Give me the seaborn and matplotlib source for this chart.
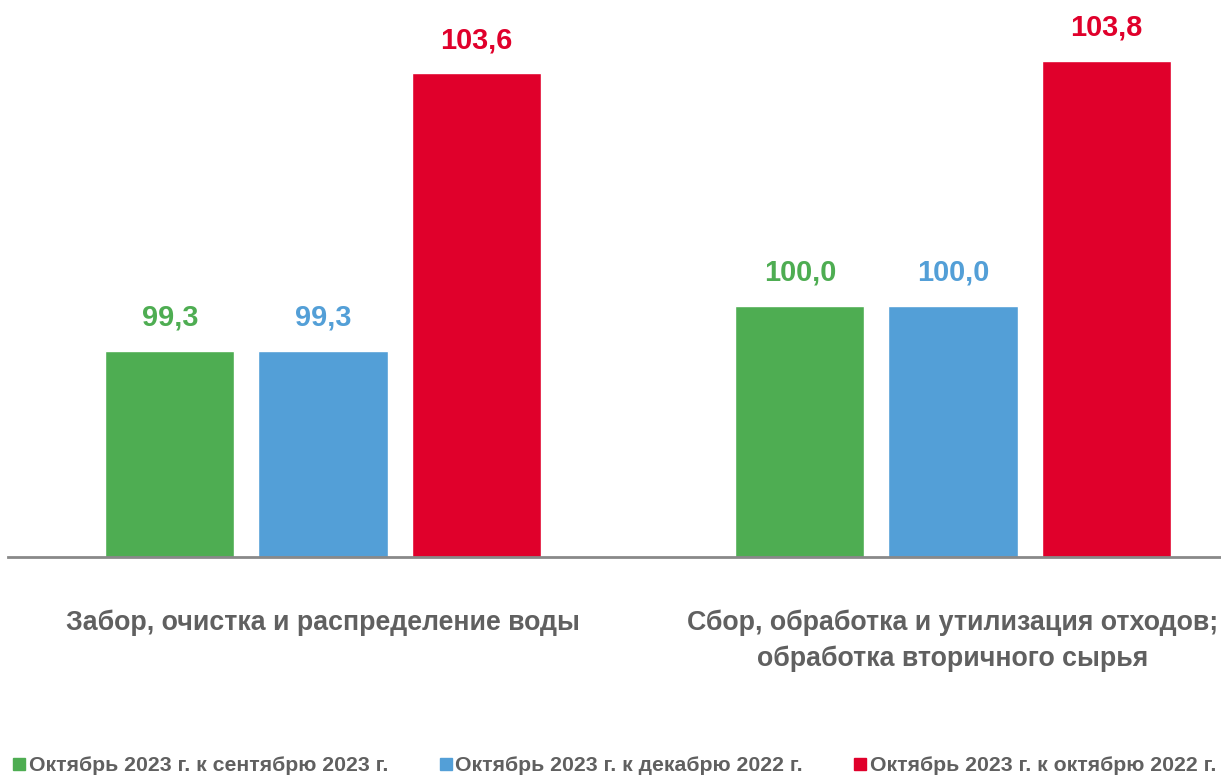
import pandas as pd
import seaborn as sns
import matplotlib.pyplot as plt
from matplotlib.lines import Line2D

categories = [
    "Забор, очистка и распределение воды",
    "Сбор, обработка и утилизация отходов;\nобработка вторичного сырья",
]
series = [
    "Октябрь 2023 г. к сентябрю 2023 г.",
    "Октябрь 2023 г. к декабрю 2022 г.",
    "Октябрь 2023 г. к октябрю 2022 г.",
]
sep_values = [99.3, 100.0]
dec_values = [99.3, 100.0]
oct_values = [103.6, 103.8]
colors = ["#4EAD52", "#539FD7", "#E0002B"]
text_gray = "#606060"

rows = []
for name, vals in zip(series, [sep_values, dec_values, oct_values]):
    for cat, v in zip(categories, vals):
        rows.append({"category": cat, "series": name, "value": v})
df = pd.DataFrame(rows)

sns.set_style("white")
plt.rcParams["font.family"] = ["Liberation Sans", "DejaVu Sans"]

fig = plt.figure(figsize=(12.21, 7.75), dpi=100)
ax = fig.add_axes([8 / 1221, (775 - 557) / 775, 1213 / 1221, 557 / 775])

sns.barplot(data=df, x="category", y="value", hue="series", order=categories,
            hue_order=series, palette=colors, width=0.729, gap=0.157,
            saturation=1, legend=False, ax=ax)

ax.set_ylim(96.1, 104.74)
ax.set_xlim(-0.5, -0.5 + 1213 / 630)

for container, col in zip(ax.containers, colors):
    labels = [f"{b.get_height():.1f}".replace(".", ",") for b in container]
    ax.bar_label(container, labels=labels, padding=14, color=col,
                 fontsize=20.8, fontweight="bold")

ax.set_xlabel("")
ax.set_ylabel("")
ax.set_yticks([])
ax.tick_params(axis="x", length=0, pad=38, labelsize=19.3, labelcolor=text_gray)
for lab in ax.get_xticklabels():
    lab.set_fontweight("bold")
    lab.set_linespacing(1.45)

for side in ["top", "right", "left"]:
    ax.spines[side].set_visible(False)
ax.spines["bottom"].set_color("#898989")
ax.spines["bottom"].set_linewidth(2)

handles = [Line2D([], [], marker="s", linestyle="none", markersize=8,
                  markerfacecolor=c, markeredgecolor=c) for c in colors]
leg = fig.legend(handles, series, loc="lower left", bbox_to_anchor=(12 / 1221, 0.0),
                 ncol=3, frameon=False, handletextpad=0.1, handlelength=0.7,
                 columnspacing=2.35, borderaxespad=0, borderpad=0,
                 prop={"size": 15.3, "weight": "bold"})
for t in leg.get_texts():
    t.set_color(text_gray)

fig.savefig("out.png", dpi=100)
